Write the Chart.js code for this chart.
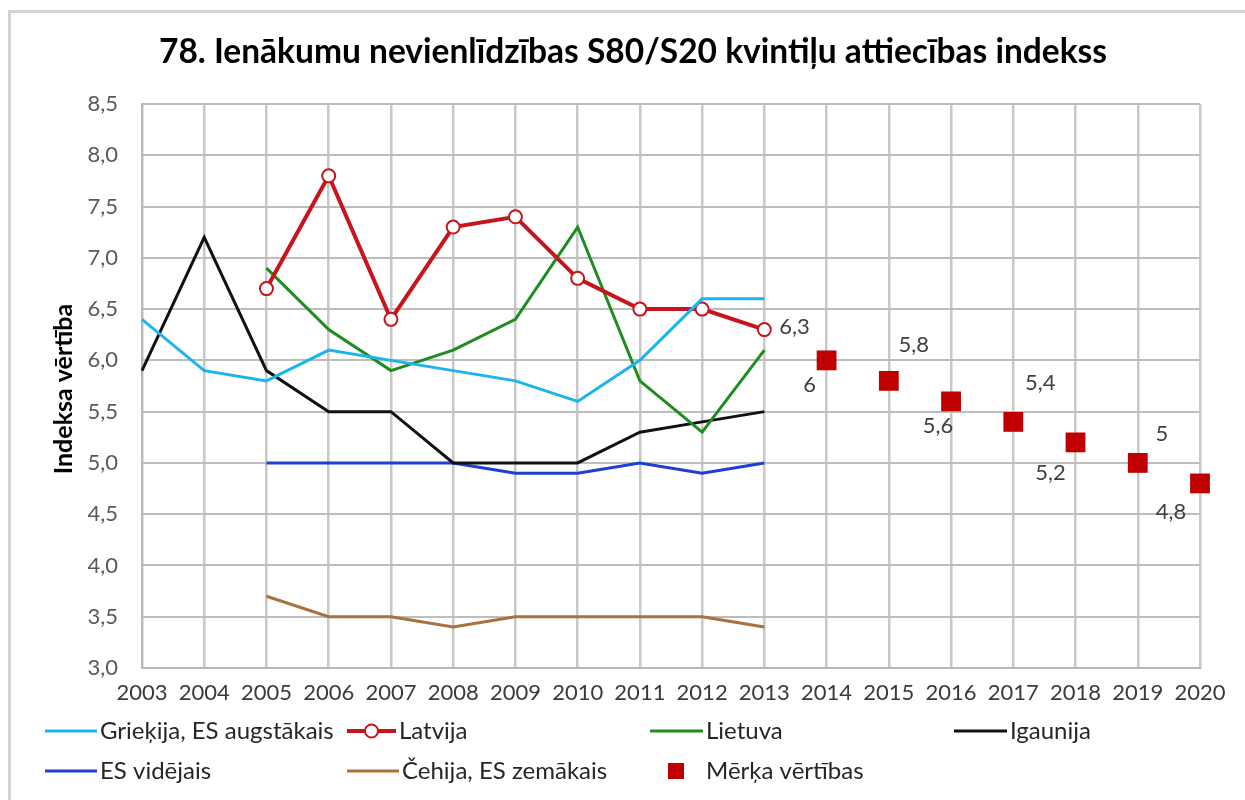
<!DOCTYPE html>
<html>
<head>
<meta charset="utf-8">
<script src="https://cdn.jsdelivr.net/npm/chart.js@4.4.0/dist/chart.umd.min.js"></script>
<style>
html,body{margin:0;padding:0;background:#fff;}
#wrap{width:1245px;height:800px;position:relative;}
</style>
</head>
<body>
<div id="wrap"><canvas id="c" width="1245" height="800"></canvas></div>
<script>
const titleText = "78. Ienākumu nevienlīdzības S80/S20 kvintiļu attiecības indekss";
const yAxisTitle = "Indeksa vērtība";
const years = ["2003","2004","2005","2006","2007","2008","2009","2010","2011","2012","2013","2014","2015","2016","2017","2018","2019","2020"];
const yTicks = [3.0,3.5,4.0,4.5,5.0,5.5,6.0,6.5,7.0,7.5,8.0,8.5];

const seriesNames = ["Grieķija, ES augstākais","Latvija","Lietuva","Igaunija","ES vidējais","Čehija, ES zemākais","Mērķa vērtības"];
const grieķija = [6.4,5.9,5.8,6.1,6.0,5.9,5.8,5.6,6.0,6.6,6.6,null,null,null,null,null,null,null];
const latvija  = [null,null,6.7,7.8,6.4,7.3,7.4,6.8,6.5,6.5,6.3,null,null,null,null,null,null,null];
const lietuva  = [null,null,6.9,6.3,5.9,6.1,6.4,7.3,5.8,5.3,6.1,null,null,null,null,null,null,null];
const igaunija = [5.9,7.2,5.9,5.5,5.5,5.0,5.0,5.0,5.3,5.4,5.5,null,null,null,null,null,null,null];
const esVidejais = [null,null,5.0,5.0,5.0,5.0,4.9,4.9,5.0,4.9,5.0,null,null,null,null,null,null,null];
const cehija   = [null,null,3.7,3.5,3.5,3.4,3.5,3.5,3.5,3.5,3.4,null,null,null,null,null,null,null];
const merkis   = [null,null,null,null,null,null,null,null,null,null,null,6.0,5.8,5.6,5.4,5.2,5.0,4.8];

const FONT = "Lato, 'Open Sans', sans-serif";
const fmt = v => String(v).replace('.', ',');

// label placements (style only): [datasetIndex, pointIndex, dx, dy, align]
const labelPlacements = [
  [1,10, 15,-3,'left'],
  [6,11,-17,25,'center'],
  [6,12, 25,-36,'center'],
  [6,13,-13,25,'center'],
  [6,14, 27,-39,'center'],
  [6,15,-25,31,'center'],
  [6,16, 24,-29,'center'],
  [6,17,-29,28,'center']
];

const legendLayout = [
  // [datasetIndex, sampleX, textX, y]
  [0, 45, 100, 731],[1, 347, 399, 731],[2, 650, 706, 731],[3, 954, 1010, 731],
  [4, 45, 100, 771],[5, 347, 402, 771],[6, 668, 706, 771]
];

const decorPlugin = {
  id:'decor',
  beforeDraw(chart){
    const ctx = chart.ctx;
    ctx.save();
    ctx.fillStyle='#fff';
    ctx.fillRect(0,0,chart.width,chart.height);
    ctx.strokeStyle='#d4d4d4';
    ctx.lineWidth=3;
    ctx.strokeRect(9.5,11.5,1260,820);
    ctx.restore();
  },
  afterDraw(chart){
    const ctx = chart.ctx;
    ctx.save();
    // title
    ctx.fillStyle='#000';
    ctx.font = "bold 33.5px " + FONT;
    ctx.textAlign='center'; ctx.textBaseline='middle';
    ctx.fillText(titleText, 633, 52);
    // y title
    ctx.save();
    ctx.translate(64, 389);
    ctx.rotate(-Math.PI/2);
    ctx.font = "bold 25px " + FONT;
    ctx.fillText(yAxisTitle, 0, 0);
    ctx.restore();
    // data labels
    ctx.font = "22px " + FONT;
    ctx.fillStyle='#404040';
    ctx.textBaseline='middle';
    labelPlacements.forEach(([di,pi,dx,dy,al])=>{
      const meta = chart.getDatasetMeta(di);
      const el = meta.data[pi];
      const v = chart.data.datasets[di].data[pi];
      if(!el || v==null) return;
      ctx.textAlign = al;
      ctx.fillText(fmt(v), el.x+dx, el.y+dy);
    });
    // legend
    ctx.font = "24px " + FONT;
    ctx.textAlign='left';
    legendLayout.forEach(([di,sx,tx,y])=>{
      const ds = chart.data.datasets[di];
      if(ds.showLine===false){
        ctx.fillStyle=ds.backgroundColor;
        ctx.fillRect(sx, y-8, 16, 16);
      } else {
        ctx.strokeStyle=ds.borderColor;
        ctx.lineWidth=ds.borderWidth;
        ctx.beginPath(); ctx.moveTo(sx,y); ctx.lineTo(tx-3,y); ctx.stroke();
        if(ds.pointRadius>0){
          ctx.fillStyle=ds.pointBackgroundColor;
          ctx.lineWidth=ds.pointBorderWidth;
          ctx.beginPath(); ctx.arc((sx+tx-3)/2,y,ds.pointRadius,0,Math.PI*2); ctx.fill(); ctx.stroke();
        }
      }
      ctx.fillStyle='#262626';
      ctx.fillText(ds.label, tx, y);
    });
    ctx.restore();
  }
};

const lineDs = (label,data,color,width) => ({label,data,borderColor:color,backgroundColor:color,borderWidth:width,pointRadius:0,pointHoverRadius:0,tension:0,spanGaps:false});

new Chart(document.getElementById('c'), {
  type:'line',
  data:{
    labels:years,
    datasets:[
      lineDs(seriesNames[0], grieķija, '#1cb3ee', 3),
      Object.assign(lineDs(seriesNames[1], latvija, '#c8141c', 4), {pointRadius:6.5, pointBackgroundColor:'#fff', pointBorderColor:'#c8141c', pointBorderWidth:2}),
      lineDs(seriesNames[2], lietuva, '#1e8c1e', 3),
      lineDs(seriesNames[3], igaunija, '#111111', 3),
      lineDs(seriesNames[4], esVidejais, '#1f3fd0', 3),
      lineDs(seriesNames[5], cehija, '#a8723e', 3),
      {label:seriesNames[6], data:merkis, showLine:false, pointStyle:'rect', pointRadius:14, pointHoverRadius:14, backgroundColor:'#c00000', borderColor:'#c00000', pointBackgroundColor:'#c00000', pointBorderColor:'#c00000', borderWidth:0}
    ]
  },
  options:{
    responsive:false,
    animation:false,
    events:[],
    layout:{padding:{left:0,top:104,right:45,bottom:0}},
    plugins:{legend:{display:false},title:{display:false},tooltip:{enabled:false}},
    scales:{
      x:{
        type:'category',
        offset:false,
        grid:{color:'#c8c8c8',lineWidth:2.5,drawTicks:false},
        border:{color:'#b8b8b8',width:2},
        ticks:{color:'#3a3a3a',font:{family:FONT,size:22},padding:12,maxRotation:0,autoSkip:false},
        afterFit(s){ s.height = 132; }
      },
      y:{
        min:3, max:8.5,
        grid:{color:'#bdbdbd',lineWidth:2,drawTicks:false},
        border:{color:'#b8b8b8',width:2},
        afterBuildTicks(s){ s.ticks = yTicks.map(v=>({value:v})); },
        ticks:{color:'#595959',font:{family:FONT,size:22},padding:24,callback:v=>v.toFixed(1).replace('.',',')},
        afterFit(s){ s.width = 142; }
      }
    }
  },
  plugins:[decorPlugin]
});
</script>
</body>
</html>
